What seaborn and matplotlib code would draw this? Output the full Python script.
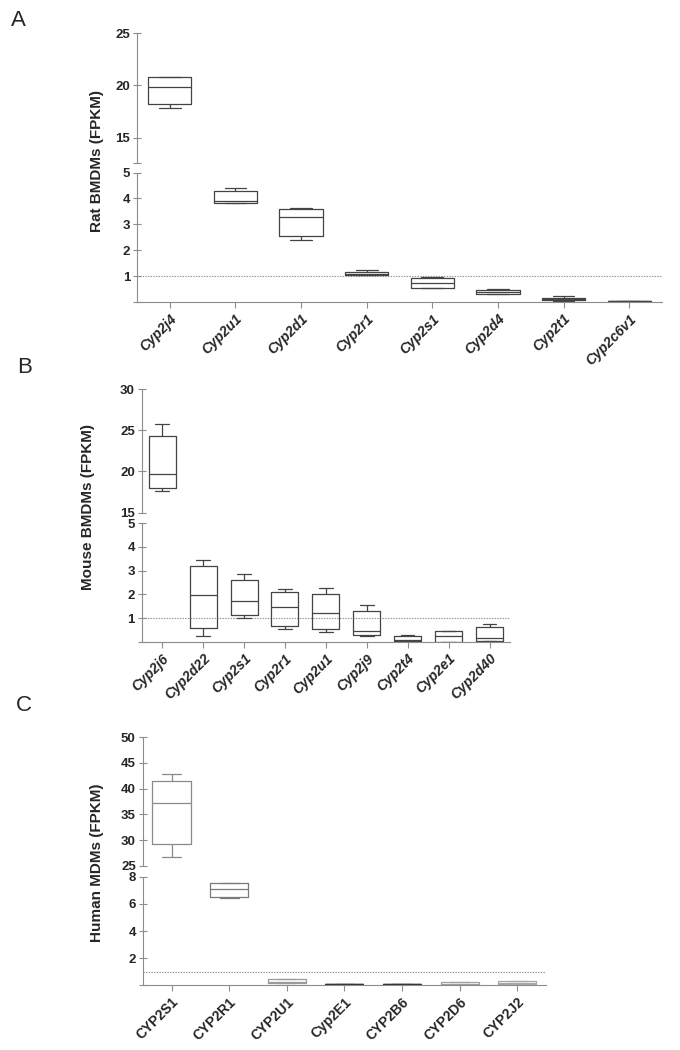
import numpy as np
import pandas as pd
import matplotlib
matplotlib.use("Agg")
import matplotlib.pyplot as plt
import seaborn as sns

W, H = 680, 1050

# Panel A - rat BMDMs, five-number summaries (min, q1, median, q3, max)
rat_genes = ['Cyp2j4', 'Cyp2u1', 'Cyp2d1', 'Cyp2r1', 'Cyp2s1', 'Cyp2d4', 'Cyp2t1', 'Cyp2c6v1']
rat_min = [17.8, 3.83, 2.38, 1.05, 0.53, 0.30, 0.05, 0.01]
rat_q1 = [18.2, 3.84, 2.53, 1.06, 0.53, 0.31, 0.07, 0.02]
rat_med = [19.8, 3.90, 3.30, 1.10, 0.72, 0.38, 0.12, 0.03]
rat_q3 = [20.75, 4.30, 3.60, 1.17, 0.93, 0.46, 0.15, 0.04]
rat_max = [20.8, 4.41, 3.62, 1.22, 0.95, 0.50, 0.22, 0.05]

# Panel B - mouse BMDMs
mouse_genes = ['Cyp2j6', 'Cyp2d22', 'Cyp2s1', 'Cyp2r1', 'Cyp2u1', 'Cyp2j9', 'Cyp2t4', 'Cyp2e1', 'Cyp2d40']
mouse_min = [17.6, 0.24, 0.99, 0.52, 0.40, 0.25, 0.02, 0.00, 0.02]
mouse_q1 = [18.0, 0.57, 1.14, 0.66, 0.54, 0.27, 0.03, 0.00, 0.03]
mouse_med = [19.7, 1.96, 1.70, 1.45, 1.22, 0.44, 0.08, 0.23, 0.14]
mouse_q3 = [24.3, 3.20, 2.59, 2.08, 2.03, 1.28, 0.25, 0.46, 0.61]
mouse_max = [25.8, 3.46, 2.84, 2.21, 2.25, 1.54, 0.27, 0.46, 0.73]

# Panel C - human MDMs
human_genes = ['CYP2S1', 'CYP2R1', 'CYP2U1', 'Cyp2E1', 'CYP2B6', 'CYP2D6', 'CYP2J2']
human_min = [26.6, 6.44, 0.15, 0.05, 0.05, 0.04, 0.08]
human_q1 = [29.2, 6.51, 0.17, 0.06, 0.06, 0.05, 0.10]
human_med = [37.3, 7.06, 0.25, 0.08, 0.08, 0.12, 0.18]
human_q3 = [41.4, 7.50, 0.44, 0.10, 0.10, 0.24, 0.32]
human_max = [42.8, 7.57, 0.46, 0.12, 0.11, 0.26, 0.34]


def long_table(genes, *stats):
    rows = []
    for i, g in enumerate(genes):
        for s in stats:
            rows.append({'gene': g, 'value': s[i]})
    return pd.DataFrame(rows)


def rect(left, top, right, bottom):
    return [left / W, 1 - bottom / H, (right - left) / W, (bottom - top) / H]


sns.set_style('ticks')
plt.rcParams['font.family'] = ['Liberation Sans', 'DejaVu Sans']

fig = plt.figure(figsize=(W / 100, H / 100), dpi=100)

AX_COL = '#8c8c8c'


def style_axis(ax, bottom):
    for s in ['top', 'right']:
        ax.spines[s].set_visible(False)
    ax.spines['left'].set_color(AX_COL)
    ax.spines['left'].set_linewidth(0.8)
    ax.spines['bottom'].set_color(AX_COL)
    ax.spines['bottom'].set_linewidth(0.8)
    ax.tick_params(axis='y', direction='inout', length=6, width=0.8, color=AX_COL,
                   labelsize=9.5, pad=2)
    if not bottom:
        ax.spines['bottom'].set_visible(False)
        ax.tick_params(axis='x', bottom=False, labelbottom=False)
    else:
        ax.tick_params(axis='x', direction='out', length=4, width=0.8, color=AX_COL,
                       labelsize=9.5, pad=3)
    for lab in ax.get_yticklabels():
        lab.set_fontweight('bold')


def draw_panel(genes, df, colors, xl, xr, up, low, up_lim, up_ticks, up_labels,
               low_lim, low_ticks, low_labels, italic):
    n = len(genes)
    ax_up = fig.add_axes(rect(xl, up[0], xr, up[1]))
    ax_low = fig.add_axes(rect(xl, low[0], xr, low[1]))
    for ax in (ax_up, ax_low):
        sns.boxplot(data=df, x='gene', y='value', hue='gene', order=genes, hue_order=genes,
                    palette=colors, fill=False, width=0.66, whis=(0, 100), linewidth=0.9,
                    showfliers=False, legend=False, ax=ax)
        ax.set_xlim(-0.5, n - 0.5)
        ax.set_xlabel('')
        ax.set_ylabel('')
    ax_up.set_ylim(*up_lim)
    ax_up.set_yticks(up_ticks)
    ax_up.set_yticklabels(up_labels)
    ax_low.set_ylim(*low_lim)
    ax_low.set_yticks(low_ticks)
    ax_low.set_yticklabels(low_labels)
    ax_low.axhline(1, color='#8c8c8c', ls=(0, (1.2, 1.2)), lw=0.8, zorder=0)
    style_axis(ax_up, False)
    style_axis(ax_low, True)
    ax_low.set_xticks(range(n))
    ax_low.set_xticklabels(genes, rotation=45, ha='right', va='top', rotation_mode='anchor',
                           fontweight='bold', fontstyle='italic' if italic else 'normal',
                           fontsize=10)
    return ax_up, ax_low


draw_panel(rat_genes, long_table(rat_genes, rat_min, rat_q1, rat_med, rat_q3, rat_max),
           ['#444444'] * len(rat_genes), 137, 662, (33, 162.7), (172.5, 302),
           (12.6, 25), [12.6, 15, 20, 25], ['', '15', '20', '25'],
           (0, 5), [0, 1, 2, 3, 4, 5], ['', '1', '2', '3', '4', '5'], True)

draw_panel(mouse_genes, long_table(mouse_genes, mouse_min, mouse_q1, mouse_med, mouse_q3, mouse_max),
           ['#444444'] * len(mouse_genes), 141.7, 510, (389, 512.7), (523.3, 641.7),
           (15, 30), [15, 20, 25, 30], ['15', '20', '25', '30'],
           (0, 5), [0, 1, 2, 3, 4, 5], ['', '1', '2', '3', '4', '5'], True)

draw_panel(human_genes, long_table(human_genes, human_min, human_q1, human_med, human_q3, human_max),
           ['#8a8a8a', '#7a7a7a', '#9a9a9a', '#333333', '#333333', '#a0a0a0', '#a8a8a8'],
           142.7, 546, (737.3, 865.7), (876.7, 985.3),
           (25, 50), [25, 30, 35, 40, 45, 50], ['25', '30', '35', '40', '45', '50'],
           (0, 8), [0, 2, 4, 6, 8], ['', '2', '4', '6', '8'], False)

# y-axis titles
fig.text(97 / W, 1 - 161 / H, 'Rat BMDMs (FPKM)', rotation=90, ha='center', va='center',
         fontsize=11, fontweight='bold')
fig.text(88 / W, 1 - 507 / H, 'Mouse BMDMs (FPKM)', rotation=90, ha='center', va='center',
         fontsize=11, fontweight='bold')
fig.text(97 / W, 1 - 863 / H, 'Human MDMs (FPKM)', rotation=90, ha='center', va='center',
         fontsize=11, fontweight='bold')

# panel letters
fig.text(11 / W, 1 - 26 / H, 'A', fontsize=16, va='baseline')
fig.text(17 / W, 1 - 373 / H, 'B', fontsize=16, va='baseline')
fig.text(16 / W, 1 - 711 / H, 'C', fontsize=16, va='baseline')

fig.savefig('out.png', dpi=100)
